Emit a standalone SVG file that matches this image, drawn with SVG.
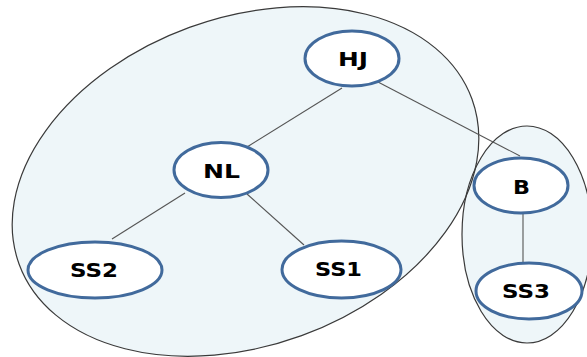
<svg xmlns="http://www.w3.org/2000/svg" width="587" height="357" viewBox="0 0 587 357">
  <style>
    .group-fill { fill: #eef6f9; stroke: none; }
    .group-line { fill: none; stroke: #3a3a3a; stroke-width: 1.2; }
    .node { fill: #ffffff; stroke: #416a9c; stroke-width: 3; }
    .label { font-family: "DejaVu Sans", Verdana, sans-serif; font-weight: bold; font-size: 19px; fill: #000; text-anchor: middle; }
    .edge { stroke: #555555; stroke-width: 1.1; fill: none; }
  </style>
  <rect width="587" height="357" fill="#ffffff"/>

  <!-- cluster backgrounds -->
  <g id="clusters">
    <ellipse class="group-fill" cx="245.5" cy="181.5" rx="241" ry="164" transform="rotate(-20 245.5 181.5)"/>
    <ellipse class="group-fill" cx="527" cy="234.5" rx="65" ry="108.5"/>
    <ellipse class="group-line" cx="245.5" cy="181.5" rx="241" ry="164" transform="rotate(-20 245.5 181.5)"/>
    <ellipse class="group-line" cx="527" cy="234.5" rx="65" ry="108.5"/>
  </g>

  <!-- connectors -->
  <g id="edges">
    <line class="edge" x1="342" y1="88" x2="247" y2="147"/>
    <line class="edge" x1="378" y1="82" x2="520" y2="156"/>
    <line class="edge" x1="185" y1="193" x2="112" y2="239"/>
    <line class="edge" x1="247" y1="194" x2="304" y2="245"/>
    <line class="edge" x1="523" y1="214" x2="523" y2="262"/>
  </g>

  <g id="HJ">
    <ellipse class="node" cx="352" cy="58.5" rx="47" ry="27.5"/>
    <text class="label" x="353" y="66" textLength="30" lengthAdjust="spacingAndGlyphs">HJ</text>
  </g>
  <g id="NL">
    <ellipse class="node" cx="221" cy="170" rx="47" ry="27.5"/>
    <text class="label" x="221.5" y="178" textLength="37" lengthAdjust="spacingAndGlyphs">NL</text>
  </g>
  <g id="B">
    <ellipse class="node" cx="521" cy="185.5" rx="47" ry="27.5"/>
    <text class="label" x="521.5" y="194" textLength="17" lengthAdjust="spacingAndGlyphs">B</text>
  </g>
  <g id="SS3">
    <ellipse class="node" cx="529" cy="291" rx="53" ry="28"/>
    <text class="label" x="526" y="298" textLength="48" lengthAdjust="spacingAndGlyphs">SS3</text>
  </g>
  <g id="SS2">
    <ellipse class="node" cx="95" cy="270" rx="67" ry="28"/>
    <text class="label" x="94" y="277" textLength="48" lengthAdjust="spacingAndGlyphs">SS2</text>
  </g>
  <g id="SS1">
    <ellipse class="node" cx="341.5" cy="269.5" rx="59.5" ry="28.5"/>
    <text class="label" x="338.5" y="276" textLength="47" lengthAdjust="spacingAndGlyphs">SS1</text>
  </g>
</svg>
